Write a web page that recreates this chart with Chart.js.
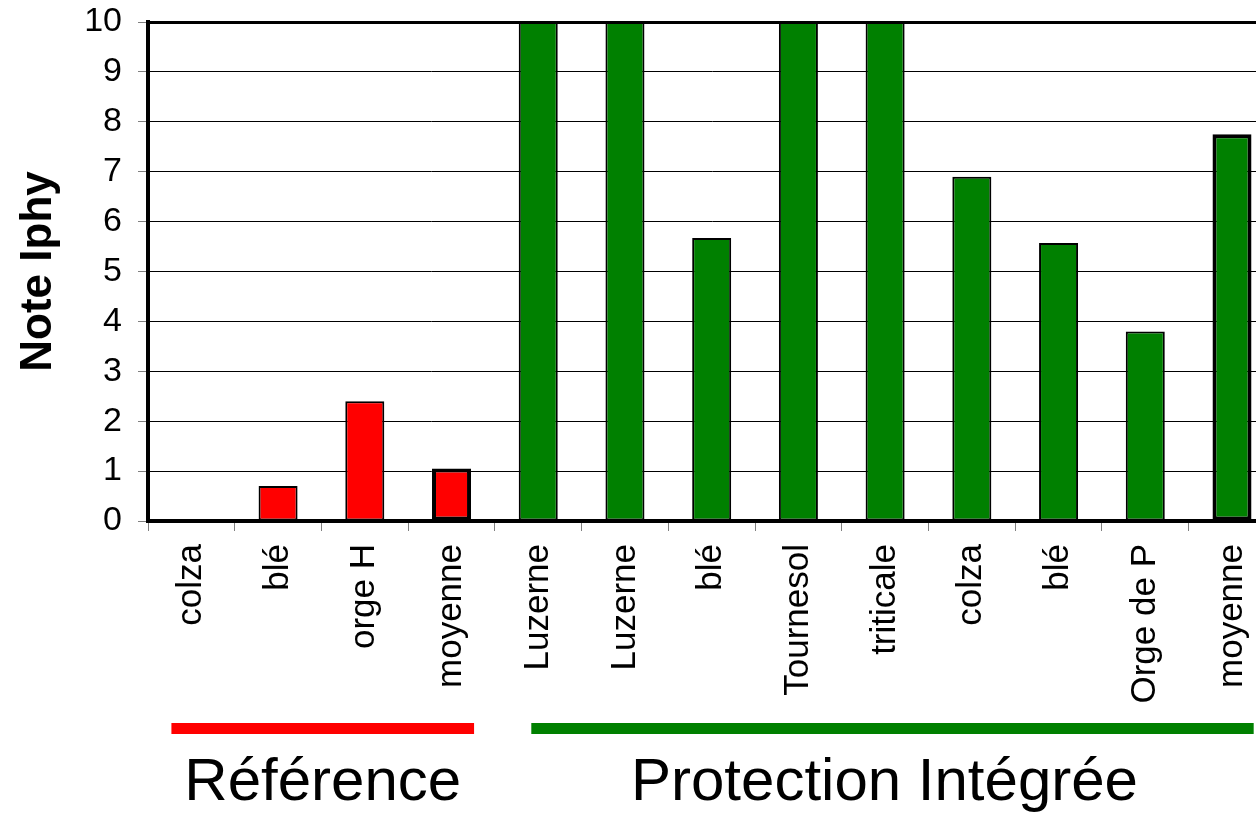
<!DOCTYPE html>
<html>
<head>
<meta charset="utf-8">
<script src="https://cdn.jsdelivr.net/npm/chart.js@4/dist/chart.umd.min.js"></script>
<style>
    html, body { margin: 0; padding: 0; background: #fff; overflow: hidden; }
    /* the plot runs a little past the right edge of the window, as in the original */
    #wrap { width: 1287px; height: 813px; position: relative; }
</style>
</head>
<body>
<div id="wrap"><canvas id="iphyChart"></canvas></div>
<script>
// Data
const categories = ['colza', 'blé', 'orge H', 'moyenne', 'Luzerne', 'Luzerne', 'blé', 'Tournesol', 'triticale', 'colza', 'blé', 'Orge de P', 'moyenne'];
const noteIphy = [0, 0.7, 2.4, 1.05, 10, 10, 5.67, 10, 10, 6.9, 5.57, 3.8, 7.75];
const yTicks = [0, 1, 2, 3, 4, 5, 6, 7, 8, 9, 10];

// Groups of bars (indexes into categories)
const groupLabels = ['Référence', 'Protection Intégrée'];
const groupFirst = [0, 4];
const groupLast = [3, 12];

const RED = '#ff0000';
const GREEN = '#008000';
const FONT = "'Liberation Sans', Arial, sans-serif";

// bar colours follow the group the bar belongs to
const barColors = categories.map((c, i) => i <= groupLast[0] ? RED : GREEN);
const groupColors = [RED, GREEN];
// how far in from the category edges each group line starts / ends
const lineInsetLeft = [0.27, 0.42];
const lineInsetRight = [0.24, 0.25];
// group names sit a bit left of their line's centre
const textShift = [0, -8];
// the 'moyenne' bars get a heavier outline
const barBorders = categories.map(c => c === 'moyenne' ? 4 : 2);

// Draws the coloured bars and names of the groups under the axis labels
const groupPlugin = {
    id: 'groups',
    afterDraw(chart) {
        const ctx = chart.ctx;
        const x = chart.scales.x;
        const step = x.getPixelForValue(1) - x.getPixelForValue(0);
        groupLabels.forEach((label, g) => {
            const x1 = x.getPixelForValue(groupFirst[g]) - step / 2 + step * lineInsetLeft[g];
            const x2 = x.getPixelForValue(groupLast[g]) + step / 2 - step * lineInsetRight[g];
            ctx.save();
            ctx.fillStyle = groupColors[g];
            ctx.fillRect(x1, 723, x2 - x1, 11);
            ctx.fillStyle = '#000';
            ctx.font = '60px ' + FONT;
            ctx.textAlign = 'center';
            ctx.textBaseline = 'alphabetic';
            ctx.fillText(label, (x1 + x2) / 2 + textShift[g], 800);
            ctx.restore();
        });
    }
};

new Chart(document.getElementById('iphyChart').getContext('2d'), {
    type: 'bar',
    data: {
        labels: categories,
        datasets: [{
            label: 'Note Iphy',
            data: noteIphy,
            backgroundColor: barColors,
            borderColor: '#000',
            borderWidth: barBorders,
            borderSkipped: false,
            barPercentage: 0.45,
            categoryPercentage: 1
        }]
    },
    options: {
        responsive: true,
        maintainAspectRatio: false,
        animation: false,
        layout: { padding: { top: 22, left: 0, right: 0, bottom: 0 } },
        plugins: {
            legend: { display: false },
            tooltip: { enabled: false }
        },
        scales: {
            x: {
                grid: {
                    offset: true,
                    drawOnChartArea: false,
                    tickLength: 10,
                    tickColor: '#808080',
                    tickWidth: 1
                },
                border: { display: true, color: '#000', width: 4 },
                ticks: {
                    autoSkip: false,
                    minRotation: 90,
                    maxRotation: 90,
                    padding: 13,
                    color: '#000',
                    font: { family: FONT, size: 35 }
                },
                afterFit: scale => { scale.height = 292; }
            },
            y: {
                min: 0,
                max: 10,
                afterBuildTicks: scale => { scale.ticks = yTicks.map(v => ({ value: v })); },
                grid: {
                    color: '#000',
                    lineWidth: c => c.tick && c.tick.value === 10 ? 3 : 1,
                    tickLength: 10,
                    tickColor: '#808080',
                    tickWidth: 1
                },
                border: { display: true, color: '#000', width: 4 },
                ticks: {
                    padding: 16,
                    color: '#000',
                    font: { family: FONT, size: 34 }
                },
                title: {
                    display: true,
                    text: 'Note Iphy',
                    color: '#000',
                    padding: { top: 12, bottom: 0 },
                    font: { family: FONT, size: 44, weight: 'bold' }
                },
                afterFit: scale => {
                    scale.width = 148;
                    scale.paddingTop = 0;
                    scale.paddingBottom = 0;
                }
            }
        }
    },
    plugins: [groupPlugin]
});
</script>
</body>
</html>
